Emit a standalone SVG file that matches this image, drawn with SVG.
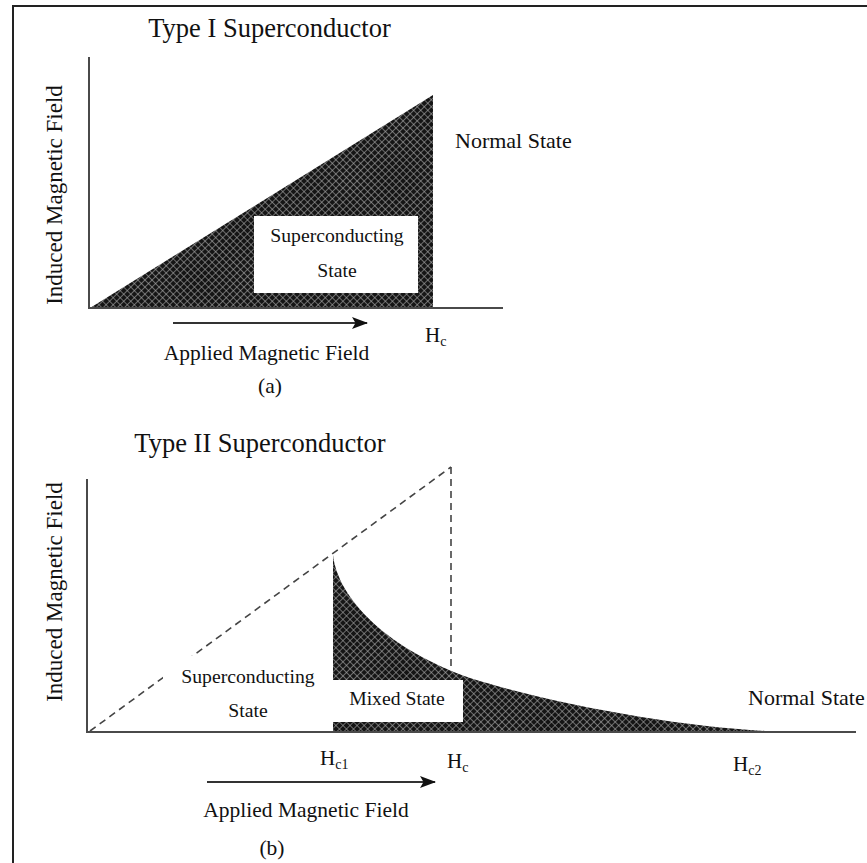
<svg xmlns="http://www.w3.org/2000/svg" width="867" height="863" viewBox="0 0 867 863">
  <defs>
    <!-- dark cross-hatch fill used for the shaded regions -->
    <pattern id="hatch" width="5" height="5" patternUnits="userSpaceOnUse" patternTransform="rotate(45)">
      <rect width="5" height="5" fill="#151515"/>
      <line x1="0" y1="0" x2="0" y2="5" stroke="#a8a8a8" stroke-width="1.2"/>
      <line x1="0" y1="0" x2="5" y2="0" stroke="#a8a8a8" stroke-width="1.2"/>
    </pattern>
    <marker id="arrow" viewBox="0 0 16 12" refX="15" refY="6" markerWidth="16" markerHeight="12" markerUnits="userSpaceOnUse" orient="auto">
      <path d="M0,0 L16,6 L0,12 L3.5,6 Z" fill="#111"/>
    </marker>
  </defs>
  <style>
    text { font-family: "Liberation Serif", "Times New Roman", serif; fill: #111; }
    .title { font-size: 26.5px; text-anchor: middle; }
    .axislabel { font-size: 21.5px; text-anchor: middle; }
    .ylabel { font-size: 23px; text-anchor: middle; }
    .region { font-size: 19.7px; text-anchor: middle; }
    .state { font-size: 22px; }
    .h { font-size: 21px; }
    .sub { font-size: 14px; }
    .axis { stroke: #4a4a4a; stroke-width: 2; fill: none; }
    .dash { stroke: #444; stroke-width: 1.6; stroke-dasharray: 7 5; fill: none; }
    .field { stroke: #333; stroke-width: 2; fill: none; marker-end: url(#arrow); }
  </style>

  <rect width="867" height="863" fill="#fff"/>
  <!-- frame (open to the right and bottom) -->
  <rect x="13" y="6" width="900" height="900" fill="none" stroke="#222" stroke-width="2"/>

  <!-- ===== (a) Type I ===== -->
  <g id="panel-a">
    <text class="title" x="269.5" y="37">Type I Superconductor</text>
    <text class="ylabel" transform="translate(62,195) rotate(-90)">Induced Magnetic Field</text>

    <g id="a-superconducting-region">
      <polygon points="90,308 433,95 433,308" fill="url(#hatch)"/>
      <rect x="254" y="216" width="164" height="77" fill="#fff"/>
      <text class="region" x="337" y="242">Superconducting</text>
      <text class="region" x="337" y="277">State</text>
    </g>

    <g id="a-normal-state">
      <text class="state" x="455" y="148">Normal State</text>
    </g>

    <g id="a-axes">
      <line class="axis" x1="89" y1="57" x2="89" y2="309"/>
      <line class="axis" x1="88" y1="308" x2="503" y2="308"/>
    </g>

    <g id="a-hc">
      <text class="h" x="425" y="342">H<tspan class="sub" dy="4">c</tspan></text>
    </g>

    <g id="a-field-arrow">
      <line class="field" x1="173" y1="323" x2="367" y2="323"/>
      <text class="axislabel" x="266.5" y="360">Applied Magnetic Field</text>
    </g>
    <text class="axislabel" x="270" y="393">(a)</text>
  </g>

  <!-- ===== (b) Type II ===== -->
  <g id="panel-b">
    <text class="title" x="260" y="452">Type II Superconductor</text>
    <text class="ylabel" transform="translate(62,592) rotate(-90)">Induced Magnetic Field</text>

    <g id="b-guides">
      <line class="dash" x1="90" y1="731" x2="451" y2="467"/>
      <line class="dash" x1="451" y1="467" x2="451" y2="731"/>
    </g>

    <g id="b-superconducting-region">
      <rect x="163" y="656" width="167" height="74" fill="#fff"/>
      <text class="region" x="248" y="683">Superconducting</text>
      <text class="region" x="248" y="717">State</text>
    </g>

    <g id="b-mixed-region">
      <path d="M333,731 L333,555 C338,600 390,650 470,678 C560,706 680,726 765,731 Z" fill="url(#hatch)"/>
      <rect x="330" y="680" width="133" height="42" fill="#fff"/>
      <text class="region" x="397" y="705">Mixed State</text>
    </g>

    <g id="b-normal-state">
      <text class="state" x="748" y="705">Normal State</text>
    </g>

    <g id="b-axes">
      <line class="axis" x1="87" y1="479" x2="87" y2="733"/>
      <line class="axis" x1="86" y1="732" x2="856" y2="732"/>
    </g>

    <g id="b-hc1">
      <text class="h" x="320" y="765">H<tspan class="sub" dy="4">c1</tspan></text>
    </g>
    <g id="b-hc">
      <text class="h" x="447" y="768">H<tspan class="sub" dy="4">c</tspan></text>
    </g>
    <g id="b-hc2">
      <text class="h" x="733" y="771">H<tspan class="sub" dy="4">c2</tspan></text>
    </g>

    <g id="b-field-arrow">
      <line class="field" x1="207" y1="782" x2="435" y2="782"/>
      <text class="axislabel" x="306" y="817">Applied Magnetic Field</text>
    </g>
    <text class="axislabel" x="272" y="855">(b)</text>
  </g>
</svg>
